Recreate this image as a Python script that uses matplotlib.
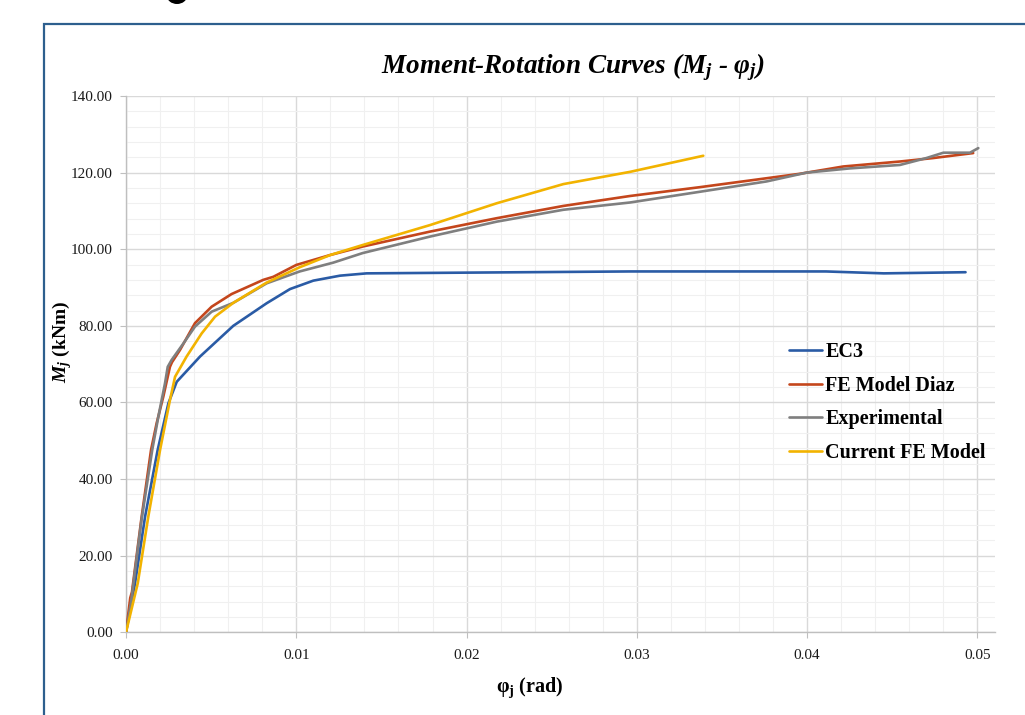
import matplotlib
matplotlib.use("Agg")
import matplotlib.pyplot as plt
from matplotlib.ticker import MultipleLocator, FormatStrFormatter
from matplotlib.patches import Rectangle, Ellipse

# ---- data ----
ec3_phi = [0.0, 0.00053, 0.00112, 0.00186, 0.00249, 0.00298, 0.00435, 0.0063, 0.00826,
           0.00963, 0.011, 0.01257, 0.01413, 0.0296, 0.0411, 0.0445, 0.0493]
ec3_m = [0.0, 12.8, 30.2, 47.6, 59.8, 65.4, 72.0, 80.0, 85.9,
         89.6, 91.8, 93.1, 93.7, 94.2, 94.2, 93.7, 94.0]

diaz_phi = [0.0, 0.00025, 0.00035, 0.00092, 0.00147, 0.0018, 0.00219, 0.00258, 0.0027,
            0.00317, 0.00405, 0.00503, 0.0062, 0.00806, 0.00865, 0.01, 0.012, 0.0139,
            0.01785, 0.02177, 0.02568, 0.0296, 0.0337, 0.03958, 0.04212, 0.04545,
            0.0474, 0.04975]
diaz_m = [0.0, 9.0, 10.5, 30.2, 47.6, 54.6, 61.5, 69.3, 70.5,
          73.7, 80.7, 85.0, 88.3, 92.0, 92.8, 95.9, 98.5, 100.7,
          104.6, 108.1, 111.3, 113.9, 116.2, 119.7, 121.6, 122.9,
          123.8, 125.1]

exp_phi = [0.0, 0.0003, 0.0009, 0.00154, 0.0019, 0.00229, 0.00245, 0.00268, 0.00337,
           0.00405, 0.00503, 0.0063, 0.00826, 0.0102, 0.01217, 0.0139, 0.01785,
           0.02177, 0.02568, 0.0296, 0.0337, 0.03762, 0.03997, 0.0425, 0.04545,
           0.047, 0.048, 0.04956, 0.05005]
exp_m = [0.0, 8.0, 29.0, 47.6, 56.3, 65.0, 69.3, 71.1, 75.4,
         79.8, 83.7, 86.0, 91.1, 94.2, 96.5, 99.0, 103.3,
         107.2, 110.3, 112.2, 115.0, 117.7, 120.0, 121.1, 122.0,
         123.8, 125.2, 125.2, 126.4]

cur_phi = [0.0, 0.00069, 0.00131, 0.002, 0.00258, 0.00288, 0.00356, 0.00444, 0.00523,
           0.0063, 0.00826, 0.0102, 0.012, 0.0139, 0.01785, 0.02177, 0.02568,
           0.0296, 0.0339]
cur_m = [0.0, 12.8, 30.2, 47.6, 60.6, 66.7, 72.0, 78.0, 82.4,
         86.0, 91.3, 95.3, 98.5, 101.1, 106.3, 112.0, 117.0,
         120.2, 124.4]

series = [
    ("EC3", ec3_phi, ec3_m, "#2A5BA5"),
    ("FE Model Diaz", diaz_phi, diaz_m, "#C4461C"),
    ("Experimental", exp_phi, exp_m, "#7F7F7F"),
    ("Current FE Model", cur_phi, cur_m, "#F2B300"),
]

# ---- style ----
plt.rcParams["font.family"] = ["Liberation Serif", "DejaVu Serif"]
plt.rcParams["mathtext.fontset"] = "custom"
plt.rcParams["mathtext.rm"] = "Liberation Serif:bold"
plt.rcParams["mathtext.it"] = "Liberation Serif:italic:bold"
plt.rcParams["mathtext.bf"] = "Liberation Serif:bold"

W, H = 1025, 715
fig = plt.figure(figsize=(W / 100, H / 100), dpi=100)
fig.patch.set_facecolor("white")

# outer frame (blue border) and fragment of text above
fig.patches.append(Rectangle((44 / W, -0.05), 1.2, (H - 24) / H + 0.05,
                             transform=fig.transFigure, fill=False,
                             edgecolor="#2D5F8E", linewidth=1.6, zorder=0))
fig.patches.append(Ellipse((177 / W, 1 + 4 / H), 20 / W, 16 / H,
                           transform=fig.transFigure, facecolor="black",
                           edgecolor="none"))

left, right, top, bottom = 126, 995, 96, 632.3
ax = fig.add_axes([left / W, (H - bottom) / H, (right - left) / W, (bottom - top) / H])
ax.set_facecolor("white")

for name, x, y, c in series:
    ax.plot(x, y, color=c, linewidth=1.9, label=name, solid_capstyle="round", zorder=3)

ax.set_xlim(0, 0.05103)
ax.set_ylim(0, 140)
ax.xaxis.set_major_locator(MultipleLocator(0.01))
ax.xaxis.set_minor_locator(MultipleLocator(0.002))
ax.yaxis.set_major_locator(MultipleLocator(20))
ax.yaxis.set_minor_locator(MultipleLocator(4))
ax.xaxis.set_major_formatter(FormatStrFormatter("%.2f"))
ax.yaxis.set_major_formatter(FormatStrFormatter("%.2f"))

ax.grid(which="major", color="#D9D9D9", linewidth=1.0, zorder=0)
ax.grid(which="minor", color="#F0F0F0", linewidth=0.8, zorder=0)
ax.set_axisbelow(True)
for s in ["top", "right"]:
    ax.spines[s].set_visible(False)
for s in ["left", "bottom"]:
    ax.spines[s].set_color("#BFBFBF")
    ax.spines[s].set_linewidth(1.0)
ax.tick_params(which="major", length=4, color="#BFBFBF", labelsize=11,
               labelcolor="#1a1a1a")
ax.tick_params(axis="x", which="major", pad=8)
ax.tick_params(axis="y", which="major", pad=5.5)
ax.tick_params(which="minor", length=0)

fig.text(573 / W, 1 - 67 / H, r"Moment-Rotation Curves ($M_j$ - $φ_j$)",
         fontsize=19.5, fontweight="bold", fontstyle="italic",
         ha="center", va="center")
fig.text(62 / W, 1 - 342 / H, r"$M_j$ (kNm)", fontsize=14, fontweight="bold",
         rotation=90, ha="center", va="center")
fig.text(530 / W, 1 - 688 / H, r"$\mathbf{φ_j}$ (rad)", fontsize=14.5,
         fontweight="bold", ha="center", va="center")

leg = ax.legend(loc="upper left", bbox_to_anchor=(789 / W, 1 - 342 / H),
                bbox_transform=fig.transFigure, frameon=False,
                prop={"family": "Liberation Serif", "weight": "bold", "size": 14.5},
                handlelength=1.65, handletextpad=0.15, labelspacing=0.68,
                borderpad=0, borderaxespad=0)

fig.savefig("out.png", dpi=100, facecolor="white")
